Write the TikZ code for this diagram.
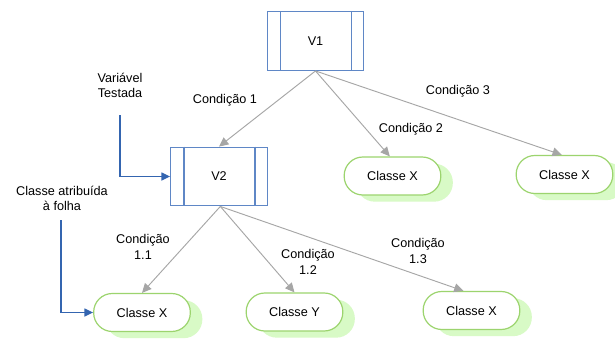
\documentclass[tikz,border=0pt]{standalone}
\usepackage{fontspec}
\setmainfont{Liberation Sans}
\usetikzlibrary{arrows.meta,shadows}
\definecolor{boxblue}{HTML}{5F87C6}
\definecolor{arrowblue}{HTML}{3465B0}
\definecolor{edgegray}{HTML}{A6A6A6}
\definecolor{leafgreen}{HTML}{9CD46E}
\definecolor{shadowgreen}{HTML}{D8FAC6}
\begin{document}
\begin{tikzpicture}[x=0.75pt,y=-0.75pt,
  font=\fontsize{9.5pt}{11.5pt}\selectfont,
  varbox/.style={draw=boxblue,line width=0.9pt,fill=white,minimum width=72.5pt,minimum height=44pt,inner sep=0pt},
  innerline/.style={draw=boxblue,line width=0.9pt},
  leaf/.style={draw=leafgreen,line width=0.9pt,fill=white,rounded corners=14pt,minimum width=72.5pt,minimum height=28.5pt,inner sep=0pt,
    copy shadow={shadow xshift=9pt,shadow yshift=-5pt,fill=shadowgreen,draw=none}},
  edge/.style={draw=edgegray,line width=0.7pt,-{Triangle[length=7pt,width=6.5pt]}},
  pointer/.style={draw=arrowblue,line width=0.9pt,-{Triangle[length=6.5pt,width=6pt]}},
  lbl/.style={align=center,inner sep=0pt}]
\useasboundingbox[fill=white] (0,0) rectangle (615,343);

% decision boxes
\node[varbox] (v1) at (315.5,41) {V1};
\draw[innerline] ([xshift=10.5pt]v1.north west) -- ([xshift=10.5pt]v1.south west);
\draw[innerline] ([xshift=-9.75pt]v1.north east) -- ([xshift=-9.75pt]v1.south east);

\node[varbox] (v2) at (219,176.5) {V2};
\draw[innerline] ([xshift=10.5pt]v2.north west) -- ([xshift=10.5pt]v2.south west);
\draw[innerline] ([xshift=-9.75pt]v2.north east) -- ([xshift=-9.75pt]v2.south east);

% leaves
\node[leaf] (x1) at (392.5,176) {Classe X};
\node[leaf] (x2) at (564.5,174.5) {Classe X};
\node[leaf] (x3) at (142,312.5) {Classe X};
\node[leaf] (y1) at (294.5,312) {Classe Y};
\node[leaf] (x4) at (471.5,310.5) {Classe X};

% edges
\draw[edge] (v1.south) -- (v2.north);
\draw[edge] (v1.south) -- ([xshift=-2pt]x1.north);
\draw[edge] (v1.south) -- ([xshift=-2pt]x2.north);
\draw[edge] ([xshift=1pt]v2.south) -- (x3.north);
\draw[edge] ([xshift=1pt]v2.south) -- (y1.north);
\draw[edge] ([xshift=1pt]v2.south) -- ([xshift=-6pt]x4.north);

% edge labels
\node[lbl] (c1) at (225,100) {Condição 1};
\node[lbl] (c2) at (411,129) {Condição 2};
\node[lbl] (c3) at (458,91) {Condição 3};
\node[lbl] (c11) at (143,247) {Condição\\1.1};
\node[lbl] (c12) at (308,262) {Condição\\1.2};
\node[lbl] (c13) at (418,251) {Condição\\1.3};

% annotations
\node[lbl] (vt) at (120,85.5) {Variável\\Testada};
\node[lbl] (ca) at (62,198.5) {Classe atribuída\\à folha};
\coordinate (vtstart) at (120,115);
\coordinate (castart) at (61,220);
\draw[pointer] (vtstart) |- (v2.west);
\draw[pointer] (castart) |- (x3.west);
\end{tikzpicture}
\end{document}
